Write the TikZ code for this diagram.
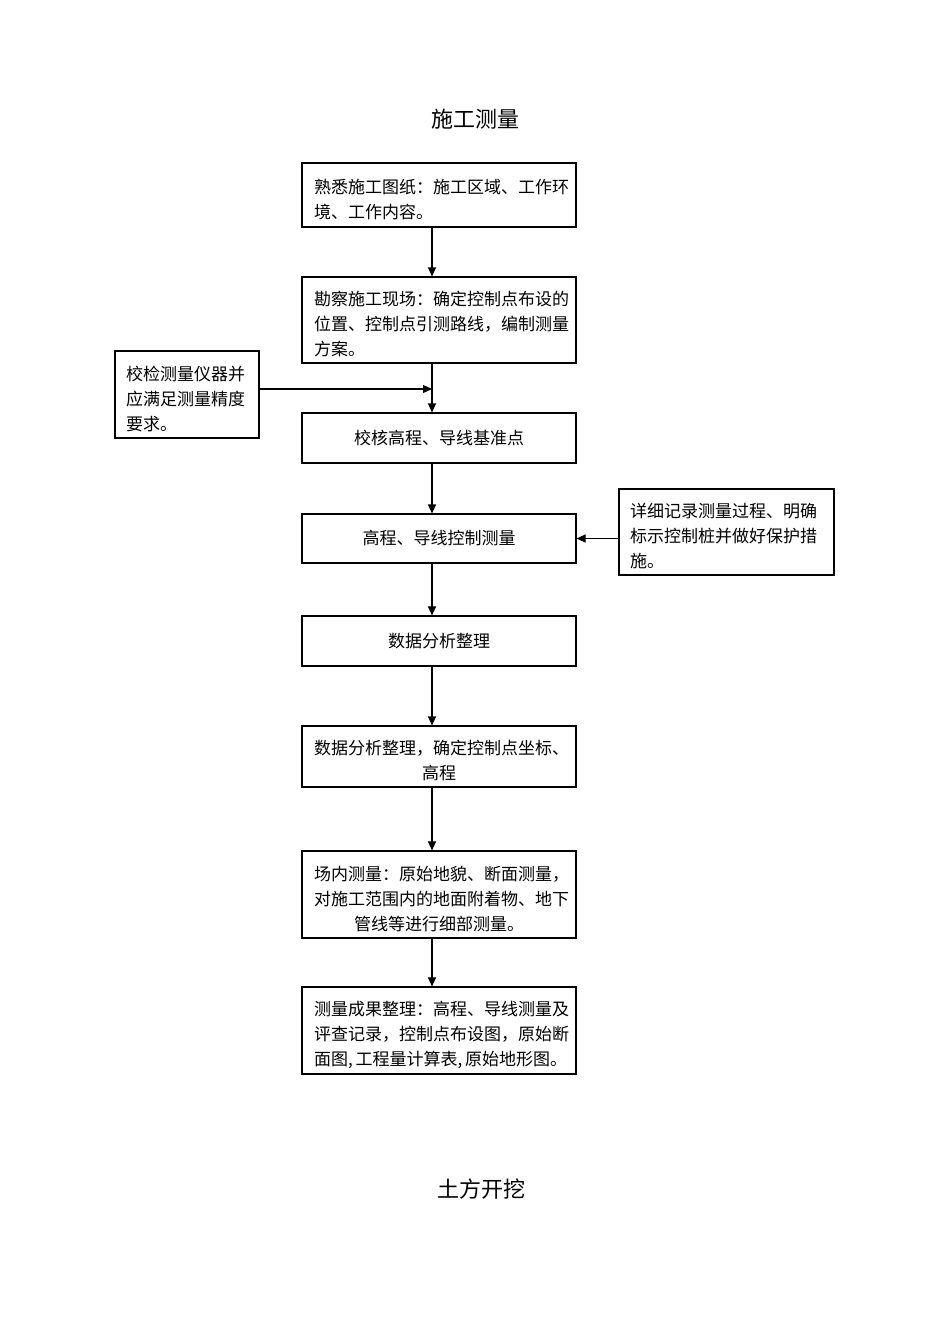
\documentclass[tikz,border=0pt]{standalone}
\usepackage{fontspec}
\setmainfont{Noto Sans CJK SC}
\usetikzlibrary{arrows.meta,shadows}
\newcommand{\firstln}{\rule{0pt}{23pt}}
\begin{document}
\begin{tikzpicture}[x=1pt,y=-1pt,
  box/.style={draw, line width=1.1pt, fill=white, inner xsep=12pt, inner ysep=2pt,
    text width=250pt, font=\fontsize{17pt}{25pt}\selectfont,
    drop shadow={shadow xshift=1.3pt,shadow yshift=-1.3pt,opacity=1,fill=black}},
  sidebox/.style={box, inner xsep=11pt},
  arr/.style={line width=1.1pt, -{Triangle[length=9pt,width=8pt]}},
  title/.style={font=\fontsize{22pt}{22pt}\selectfont}]
\useasboundingbox (0,0) rectangle (950,1344);
\coordinate (ax) at (432,0);
\node[title] (t1) at (475,119) {施工测量};
\node[title] (t2) at (481,1189) {土方开挖};
\node[box, align=left, minimum height=64pt] (b1) at (439,195) {\firstln 熟悉施工图纸：施工区域、工作环\\境、工作内容。};
\node[box, align=left, minimum height=86pt] (b2) at (439,320) {\firstln 勘察施工现场：确定控制点布设的\\位置、控制点引测路线，编制测量\\方案。};
\node[box, align=center, minimum height=50pt] (b3) at (439,438) {校核高程、导线基准点};
\node[box, align=center, minimum height=49pt] (b4) at (439,538.5) {\raisebox{2pt}{高程、导线控制测量}};
\node[box, align=center, minimum height=50pt] (b5) at (439,641) {数据分析整理};
\node[box, align=center, minimum height=61pt] (b6) at (439,756.5) {\firstln 数据分析整理，确定控制点坐标、\\高程};
\node[box, align=center, minimum height=87pt] (b7) at (439,894.5) {\firstln 场内测量：原始地貌、断面测量，\\对施工范围内的地面附着物、地下\\管线等进行细部测量。};
\node[box, align=center, minimum height=87pt] (b8) at (439,1030.5) {\firstln 测量成果整理：高程、导线测量及\\评查记录，控制点布设图，原始断\\面图,\,工程量计算表,\,原始地形图。};
\node[sidebox, align=left, text width=122pt, minimum height=87pt] (lb) at (187,394.5) {\firstln 校检测量仪器并\\应满足测量精度\\要求。};
\node[sidebox, align=left, text width=193pt, minimum height=86pt] (rb) at (726.5,532) {\firstln 详细记录测量过程、明确\\标示控制桩并做好保护措\\施。};
\coordinate (j) at (432,389);
\draw[arr] (b1.south -| ax) -- (b2.north -| ax);
\draw[arr] (b2.south -| ax) -- (b3.north -| ax);
\draw[arr] (lb.east |- j) -- (j);
\draw[arr] (b3.south -| ax) -- (b4.north -| ax);
\draw[arr] (rb.west |- b4.east) -- (b4.east);
\draw[arr] (b4.south -| ax) -- (b5.north -| ax);
\draw[arr] (b5.south -| ax) -- (b6.north -| ax);
\draw[arr] (b6.south -| ax) -- (b7.north -| ax);
\draw[arr] (b7.south -| ax) -- (b8.north -| ax);
\end{tikzpicture}
\end{document}
